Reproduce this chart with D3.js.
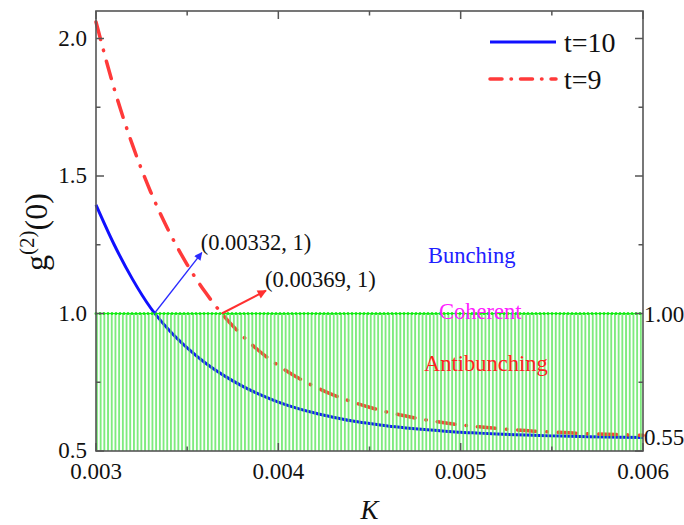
<!DOCTYPE html>
<html>
<head>
<meta charset="utf-8">
<script src="https://cdn.jsdelivr.net/npm/d3@7"></script>
<style>
  body { margin: 0; background: #fff; }
</style>
</head>
<body>
<div id="chart"></div>
<script>
// K values (x)
let kValues = [0.0030, 0.0031, 0.0032, 0.0033, 0.0034, 0.0035, 0.0036, 0.0037, 0.0038, 0.0039,
  0.0040, 0.0041, 0.0042, 0.0043, 0.0044, 0.0045, 0.0046, 0.0047, 0.0048, 0.0049,
  0.0050, 0.0051, 0.0052, 0.0053, 0.0054, 0.0055, 0.0056, 0.0057, 0.0058, 0.0059, 0.0060]

// g2(0) for t=10
let t10 = [1.395, 1.250, 1.125, 1.020, 0.940, 0.875, 0.820, 0.775, 0.737, 0.705,
  0.678, 0.656, 0.638, 0.623, 0.610, 0.600, 0.591, 0.584, 0.578, 0.573,
  0.568, 0.565, 0.562, 0.559, 0.557, 0.555, 0.554, 0.552, 0.551, 0.550, 0.549]

// g2(0) for t=9
let t9 = [2.060, 1.817, 1.613, 1.442, 1.299, 1.178, 1.077, 0.992, 0.921, 0.861,
  0.811, 0.769, 0.734, 0.704, 0.680, 0.659, 0.641, 0.627, 0.614, 0.604,
  0.595, 0.588, 0.582, 0.577, 0.572, 0.569, 0.566, 0.563, 0.561, 0.559, 0.557]

let xTicks = [0.003, 0.004, 0.005, 0.006]
let xTickLabels = ['0.003', '0.004', '0.005', '0.006']
let xMinor = [0.0035, 0.0045, 0.0055]
let yTicks = [0.5, 1.0, 1.5, 2.0]
let yTickLabels = ['0.5', '1.0', '1.5', '2.0']
let yMinor = [0.75, 1.25, 1.75]
let rightLabels = [{ v: 1.0, text: '1.00' }, { v: 0.55, text: '0.55' }]

let seriesNames = ['t=10', 't=9']

// annotation points (data coordinates)
let crossPoints = [{ k: 0.00332, g: 1, tipK: 0.00358, tipG: 1.221, label: '(0.00332, 1)', lk: 0.003574, lg: 1.231 },
  { k: 0.00369, g: 1, tipK: 0.003932, tipG: 1.083, label: '(0.00369, 1)', lk: 0.003927, lg: 1.097 }]
let regionLabels = [{ text: 'Bunching', k: 0.004821, g: 1.185, color: '#2020ff' },
  { text: 'Coherent', k: 0.004881, g: 0.979, color: '#ff20ff' },
  { text: 'Antibunching', k: 0.004799, g: 0.792, color: '#ff2020' }]

let margin = { top: 11, left: 96, right: 41, bottom: 74 }
let width = 684 - margin.left - margin.right
let height = 525 - margin.top - margin.bottom

let xScale = d3.scaleLinear().domain([0.003, 0.006]).range([0, width])
let yScale = d3.scaleLinear().domain([0.5, 2.1]).range([height, 0])

let serif = '"Liberation Serif"'

let svg = d3.select('#chart')
  .append('svg')
  .attr('width', 684)
  .attr('height', 525)

let defs = svg.append('defs')
defs.append('pattern')
  .attr('id', 'hatch')
  .attr('patternUnits', 'userSpaceOnUse')
  .attr('width', 3.7)
  .attr('height', 10)
  .append('rect')
  .attr('width', 1.9)
  .attr('height', 10)
  .attr('fill', '#5ee65e')

defs.append('marker')
  .attr('id', 'arrowBlue')
  .attr('viewBox', '0 0 10 10')
  .attr('refX', 9).attr('refY', 5)
  .attr('markerWidth', 9).attr('markerHeight', 8)
  .attr('markerUnits', 'userSpaceOnUse')
  .attr('orient', 'auto')
  .append('path').attr('d', 'M0,0L10,5L0,10Z').attr('fill', '#2a2aff')

defs.append('marker')
  .attr('id', 'arrowRed')
  .attr('viewBox', '0 0 10 10')
  .attr('refX', 9).attr('refY', 5)
  .attr('markerWidth', 11).attr('markerHeight', 9)
  .attr('markerUnits', 'userSpaceOnUse')
  .attr('orient', 'auto')
  .append('path').attr('d', 'M0,0L10,5L0,10Z').attr('fill', '#ff3030')

let g = svg.append('g').attr('transform', `translate(${margin.left},${margin.top})`)

let line = d3.line()
  .x((d, i) => xScale(kValues[i]))
  .y(d => yScale(d))
  .curve(d3.curveMonotoneX)

// curves
g.append('path')
  .datum(t10)
  .attr('d', line)
  .attr('fill', 'none')
  .attr('stroke', '#1010ff')
  .attr('stroke-width', 3)

g.append('path')
  .datum(t9)
  .attr('d', line)
  .attr('fill', 'none')
  .attr('stroke', '#ff3a3a')
  .attr('stroke-width', 3.5)
  .attr('stroke-linecap', 'round')
  .attr('stroke-dasharray', '18 11 0.5 11')

// antibunching region hatch
g.append('rect')
  .attr('x', 0)
  .attr('y', yScale(1))
  .attr('width', width)
  .attr('height', yScale(0.5) - yScale(1))
  .attr('fill', 'url(#hatch)')
  .attr('opacity', 0.8)

// coherent line
g.append('line')
  .attr('x1', 0).attr('x2', width)
  .attr('y1', yScale(1)).attr('y2', yScale(1))
  .attr('stroke', '#22dd22')
  .attr('stroke-width', 1)
g.append('line')
  .attr('x1', 0).attr('x2', width)
  .attr('y1', yScale(1)).attr('y2', yScale(1))
  .attr('stroke', '#11ee11')
  .attr('stroke-width', 3)
  .attr('stroke-linecap', 'round')
  .attr('stroke-dasharray', '0 4')

// arrows + labels
g.selectAll('.arrow')
  .data(crossPoints)
  .enter()
  .append('line')
  .attr('class', 'arrow')
  .attr('x1', d => xScale(d.k))
  .attr('y1', d => yScale(d.g))
  .attr('x2', d => xScale(d.tipK))
  .attr('y2', d => yScale(d.tipG))
  .attr('stroke', (d, i) => i === 0 ? '#2a2aff' : '#ff3030')
  .attr('stroke-width', (d, i) => i === 0 ? 1.3 : 2)
  .attr('marker-end', (d, i) => i === 0 ? 'url(#arrowBlue)' : 'url(#arrowRed)')

g.selectAll('.cross-label')
  .data(crossPoints)
  .enter()
  .append('text')
  .attr('class', 'cross-label')
  .attr('x', d => xScale(d.lk))
  .attr('y', d => yScale(d.lg))
  .style('font-family', serif)
  .attr('font-size', 22.5)
  .attr('fill', '#111')
  .text(d => d.label)

g.selectAll('.region-label')
  .data(regionLabels)
  .enter()
  .append('text')
  .attr('class', 'region-label')
  .attr('x', d => xScale(d.k))
  .attr('y', d => yScale(d.g))
  .style('font-family', serif)
  .attr('font-size', 22.5)
  .attr('fill', d => d.color)
  .text(d => d.text)

// axes: frame and inward ticks
let axisColor = '#555'
g.append('rect')
  .attr('width', width)
  .attr('height', height)
  .attr('fill', 'none')
  .attr('stroke', axisColor)
  .attr('stroke-width', 1.6)

let xAll = xTicks.map(v => ({ v, len: 8 })).concat(xMinor.map(v => ({ v, len: 4.5 })))
let yAll = yTicks.map(v => ({ v, len: 8 })).concat(yMinor.map(v => ({ v, len: 4.5 })))

g.selectAll('.xtick-b').data(xAll).enter().append('line')
  .attr('x1', d => xScale(d.v)).attr('x2', d => xScale(d.v))
  .attr('y1', height).attr('y2', d => height - d.len)
  .attr('stroke', axisColor).attr('stroke-width', 1.5)
g.selectAll('.xtick-t').data(xAll).enter().append('line')
  .attr('x1', d => xScale(d.v)).attr('x2', d => xScale(d.v))
  .attr('y1', 0).attr('y2', d => d.len)
  .attr('stroke', axisColor).attr('stroke-width', 1.5)
g.selectAll('.ytick-l').data(yAll).enter().append('line')
  .attr('y1', d => yScale(d.v)).attr('y2', d => yScale(d.v))
  .attr('x1', 0).attr('x2', d => d.len)
  .attr('stroke', axisColor).attr('stroke-width', 1.5)
g.selectAll('.ytick-r').data(yAll).enter().append('line')
  .attr('y1', d => yScale(d.v)).attr('y2', d => yScale(d.v))
  .attr('x1', width).attr('x2', d => width - d.len)
  .attr('stroke', axisColor).attr('stroke-width', 1.5)

// tick labels
g.selectAll('.xlabel').data(xTicks).enter().append('text')
  .attr('x', d => xScale(d))
  .attr('y', height + 28)
  .attr('text-anchor', 'middle')
  .style('font-family', serif)
  .attr('font-size', 23)
  .attr('fill', '#111')
  .text((d, i) => xTickLabels[i])

g.selectAll('.ylabel').data(yTicks).enter().append('text')
  .attr('x', -9)
  .attr('y', d => yScale(d) + 7)
  .attr('text-anchor', 'end')
  .style('font-family', serif)
  .attr('font-size', 23)
  .attr('fill', '#111')
  .text((d, i) => yTickLabels[i])

g.selectAll('.rlabel').data(rightLabels).enter().append('text')
  .attr('x', width + 1)
  .attr('y', d => yScale(d.v) + 8)
  .style('font-family', serif)
  .attr('font-size', 23)
  .attr('fill', '#111')
  .text(d => d.text)

// axis titles
svg.append('text')
  .attr('x', margin.left + width / 2)
  .attr('y', 519)
  .attr('text-anchor', 'middle')
  .style('font-family', serif)
  .attr('font-size', 27)
  .attr('font-style', 'italic')
  .attr('fill', '#111')
  .text('K')

let yTitle = svg.append('text')
  .attr('transform', 'translate(47,232) rotate(-90)')
  .attr('text-anchor', 'middle')
  .style('font-family', serif)
  .attr('font-size', 32)
  .attr('fill', '#111')
yTitle.append('tspan').text('g')
yTitle.append('tspan').attr('font-size', 21).attr('dy', -13).text('(2)')
yTitle.append('tspan').attr('dy', 13).text('(0)')

// legend
let legend = svg.append('g').attr('transform', 'translate(490,42)')
let legendStyles = [{ color: '#1010ff', dash: null, w: 3 }, { color: '#ff3a3a', dash: '12 9 0.5 9', w: 3.5 }]
legend.selectAll('.leg-line').data(seriesNames).enter().append('line')
  .attr('x1', 0).attr('x2', 66)
  .attr('y1', (d, i) => i * 37).attr('y2', (d, i) => i * 37)
  .attr('stroke', (d, i) => legendStyles[i].color)
  .attr('stroke-width', (d, i) => legendStyles[i].w)
  .attr('stroke-linecap', (d, i) => i === 0 ? 'butt' : 'round')
  .attr('stroke-dasharray', (d, i) => legendStyles[i].dash)
legend.selectAll('.leg-text').data(seriesNames).enter().append('text')
  .attr('x', 74)
  .attr('y', (d, i) => i * 37 + 10)
  .style('font-family', serif)
  .attr('font-size', 28)
  .attr('fill', '#111')
  .text(d => d)
</script>
</body>
</html>
